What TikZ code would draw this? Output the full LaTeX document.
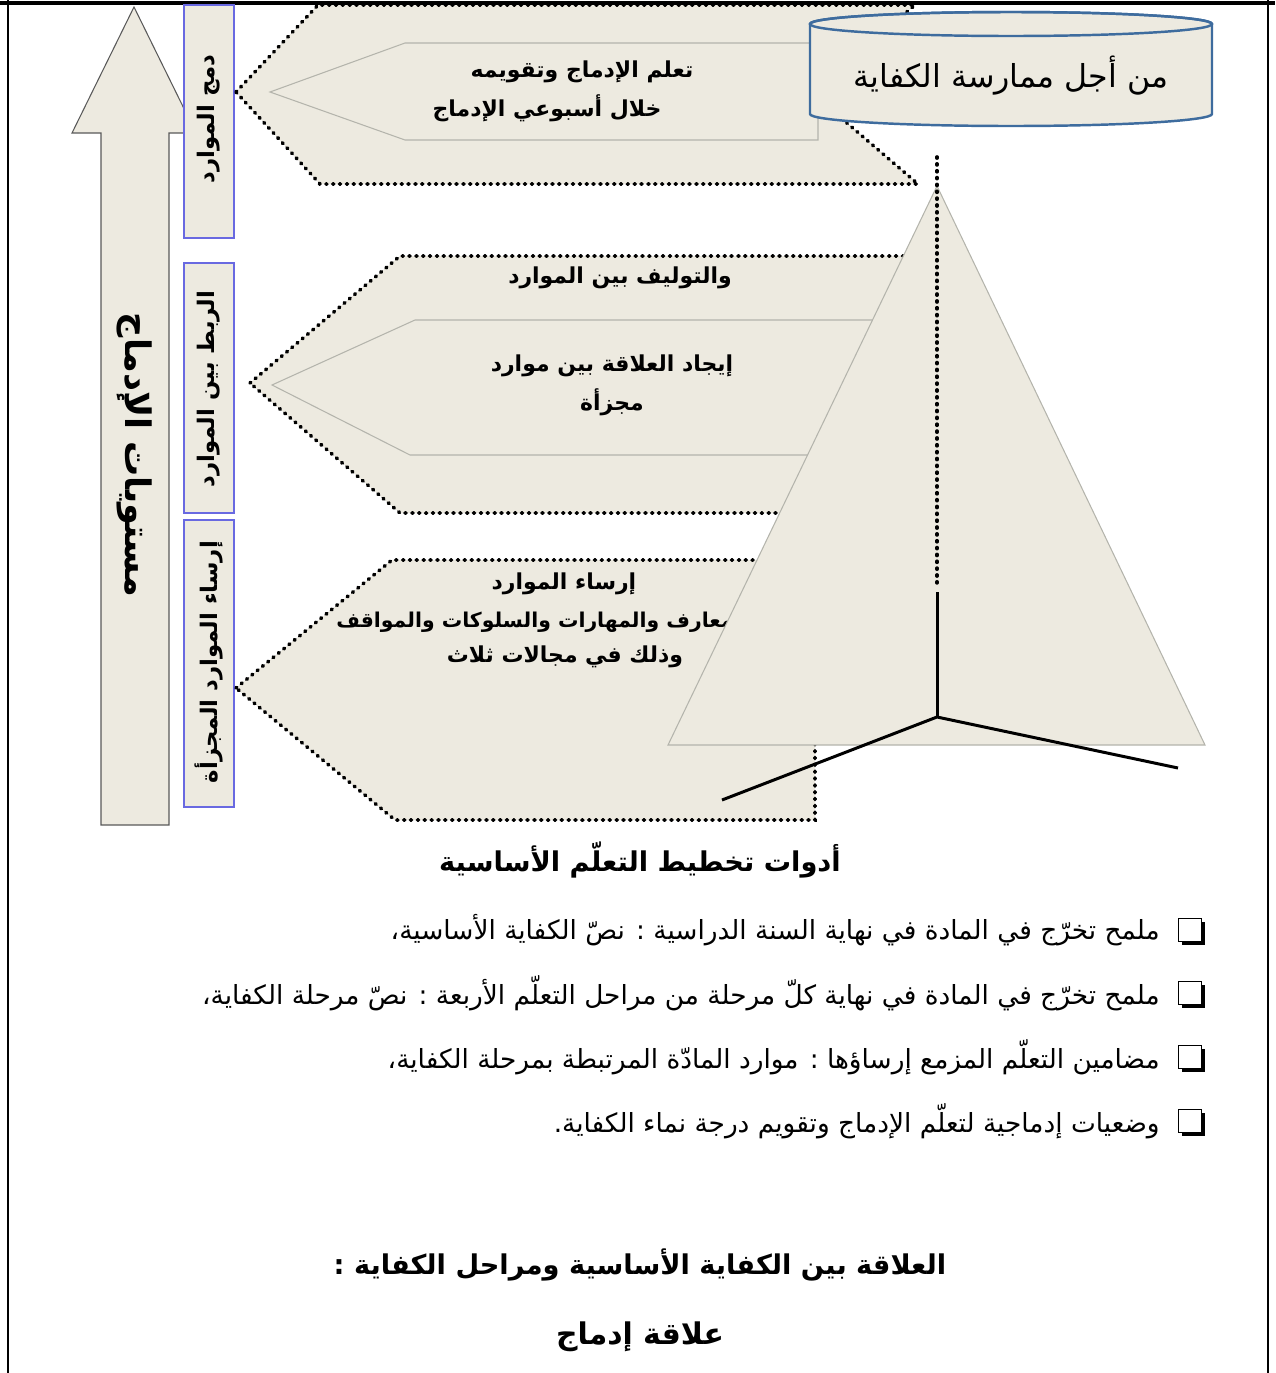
\documentclass[tikz,border=0pt]{standalone}
\usepackage{fontspec}
\usetikzlibrary{shadows}
\newfontfamily\arabicfont[Script=Arabic]{DejaVu Sans}
\TeXXeTstate=1
\newcommand{\artext}[1]{{\arabicfont\beginR #1\endR}}

\definecolor{paper}{RGB}{237,234,224}
\definecolor{boxblue}{RGB}{105,105,225}
\definecolor{cylblue}{RGB}{62,108,158}
\definecolor{edgegray}{RGB}{180,180,172}

\begin{document}
\begin{tikzpicture}[x=0.02cm, y=-0.02cm,
    panel/.style={fill=paper, draw=black, line width=2.1pt, dash pattern=on 0.6pt off 3.3pt, line cap=round},
    dotline/.style={draw=black, line width=2.1pt, dash pattern=on 0.6pt off 3.3pt, line cap=round},
    innerline/.style={draw=edgegray, line width=0.6pt},
    sidebox/.style={draw=boxblue, fill=paper, line width=0.7pt},
    sidetext/.style={font=\fontsize{13}{16}\selectfont\bfseries, inner sep=0pt},
    dtext/.style={font=\fontsize{12.5}{21}\selectfont\bfseries, inner sep=0pt},
    head/.style={font=\fontsize{15.5}{20}\selectfont\bfseries, inner sep=0pt},
    item/.style={font=\fontsize{15}{18}\selectfont, inner sep=0pt, anchor=east},
    chk/.style={draw=black, fill=white, line width=0.7pt, minimum size=0.46cm, inner sep=0pt,
        general shadow={fill=black, shadow xshift=1.8pt, shadow yshift=-1.8pt}}]
    % Page size
    \useasboundingbox (0,0) rectangle (1275,1373);

    % Frame of the page
    \draw[line width=1.8pt] (0,3) -- (1275,3);
    \draw[line width=0.9pt] (8,0) -- (8,1373);
    \draw[line width=0.9pt] (1268,0) -- (1268,1373);

    % Big arrow (levels)
    \filldraw[fill=paper, draw=black!65, line width=0.6pt]
        (101,825) -- (101,133) -- (72,133) -- (134,7) -- (196,133) -- (169,133) -- (169,825) -- cycle;
    \node[font=\fontsize{20}{24}\selectfont\bfseries, rotate=-90] (levels) at (135,455) {\artext{مستويات الإدماج}};

    % Side boxes
    \filldraw[sidebox] (184,5) rectangle (234,238);
    \filldraw[sidebox] (184,263) rectangle (234,513);
    \filldraw[sidebox] (184,520) rectangle (234,807);
    \node[sidetext, rotate=90] (merge) at (209,119) {\artext{دمج الموارد}};
    \node[sidetext, rotate=90] (link) at (209,389) {\artext{الربط بين الموارد}};
    \node[sidetext, rotate=90] (settle) at (209,662) {\artext{إرساء الموارد المجزأة}};

    % Upper panel
    \path[panel] (236,92) -- (318,5) -- (915,5) -- (812,93) -- (918,184) -- (320,184) -- cycle;
    \draw[innerline] (818,43) -- (405,43) -- (270,92) -- (405,140) -- (818,140) -- (818,118);
    \node[dtext] (upper1) at (582,72) {\artext{تعلم الإدماج  وتقويمه}};
    \node[dtext] (upper2) at (547,108) {\artext{خلال أسبوعي الإدماج}};

    % Middle panel
    \path[panel] (250,383) -- (400,256) -- (930,256) -- (930,513) -- (400,513) -- cycle;
    \draw[innerline] (900,320) -- (415,320) -- (272,385) -- (410,455) -- (860,455);
    \node[dtext] (synth) at (620,278) {\artext{والتوليف بين الموارد}};
    \node[dtext] (relate1) at (612,366) {\artext{إيجاد العلاقة بين موارد}};
    \node[dtext] (relate2) at (612,402) {\artext{مجزأة}};

    % Lower panel
    \path[panel] (236,688) -- (392,560) -- (815,560) -- (815,820) -- (395,820) -- cycle;
    \node[dtext] (ground1) at (564,584) {\artext{إرساء الموارد}};
    \node[dtext, font=\fontsize{11.6}{21}\selectfont\bfseries, anchor=west] (ground2) at (336,622) {\artext{المعارف والمهارات والسلوكات والمواقف}};
    \node[dtext] (ground3) at (565,657) {\artext{وذلك في مجالات ثلاث}};

    % Pyramid
    \filldraw[fill=paper, draw=edgegray, line width=0.6pt] (937,186) -- (1205,745) -- (668,745) -- cycle;
    \draw[dotline] (937,157) -- (937,588);
    \draw[line width=1.7pt] (937,592) -- (937,717);
    \draw[line width=1.7pt] (722,800) -- (937,717) -- (1178,768);

    % Cylinder
    \filldraw[fill=paper, draw=cylblue, line width=1.4pt]
        (810,24) -- (810,114) arc[start angle=180, end angle=0, x radius=201, y radius=12]
        -- (1212,24) arc[start angle=0, end angle=-180, x radius=201, y radius=12] -- cycle;
    \draw[cylblue, line width=1.4pt] (1011,24) ellipse[x radius=201, y radius=12];
    \node[font=\fontsize{18}{22}\selectfont, inner sep=0pt] (goal) at (1011,76) {\artext{من أجل ممارسة الكفاية}};

    % Tools
    \node[head] (tools) at (640,860) {\artext{أدوات تخطيط التعلّم الأساسية}};
    \node[chk] (chk1) at (1190,930) {};
    \node[chk] (chk2) at (1190,993) {};
    \node[chk] (chk3) at (1190,1057) {};
    \node[chk] (chk4) at (1190,1121) {};
    \node[item] (tool1) at (1160,930) {\artext{ملمح تخرّج في المادة في نهاية السنة الدراسية : نصّ الكفاية الأساسية،}};
    \node[item] (tool2) at (1160,993) {\artext{ملمح تخرّج في المادة في نهاية كلّ مرحلة من مراحل التعلّم الأربعة : نصّ مرحلة الكفاية،}};
    \node[item] (tool3) at (1160,1057) {\artext{مضامين التعلّم المزمع إرساؤها : موارد المادّة المرتبطة بمرحلة الكفاية،}};
    \node[item] (tool4) at (1160,1121) {\artext{وضعيات إدماجية لتعلّم الإدماج وتقويم درجة نماء الكفاية.}};

    % Relation
    \node[head] (relation) at (640,1265) {\artext{العلاقة بين الكفاية الأساسية ومراحل الكفاية :}};
    \node[head, font=\fontsize{17}{20}\selectfont\bfseries] (kind) at (640,1337) {\artext{علاقة إدماج}};
\end{tikzpicture}
\end{document}
